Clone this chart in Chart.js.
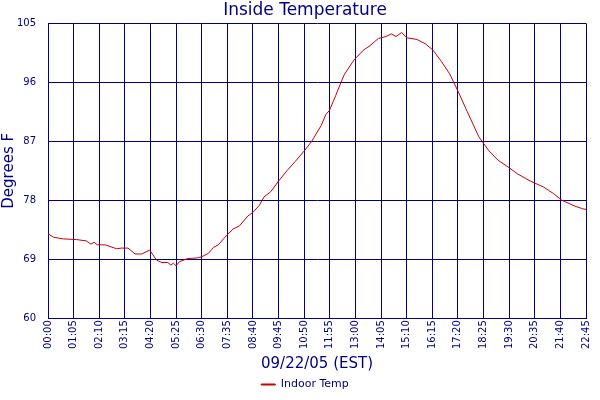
<!DOCTYPE html>
<html><head><meta charset="utf-8">
<script src="https://cdn.jsdelivr.net/npm/chart.js@4"></script>
<style>html,body{margin:0;padding:0;background:#fff}#w{width:600px;height:400px}</style>
</head><body><div id="w"><canvas id="c"></canvas></div>
<script>
const minutes = [0,14,39,72,97,109,117,125,145,174,186,203,221,238,258,275,288,304,312,318,325,333,354,379,391,407,420,432,449,469,486,507,519,536,548,565,586,606,627,651,668,693,705,714,730,751,776,800,817,838,858,871,883,897,911,936,957,977,998,1019,1039,1064,1093,1118,1142,1167,1192,1225,1258,1283,1304,1337,1357,1365];
const indoorTemp = [72.9,72.35,72.1,72.0,71.8,71.3,71.6,71.2,71.2,70.6,70.7,70.7,69.8,69.8,70.4,68.9,68.5,68.5,68.1,68.4,68.0,68.6,69.1,69.2,69.4,69.9,70.8,71.2,72.35,73.6,74.1,75.6,76.1,77.2,78.5,79.3,81.0,82.5,83.9,85.6,86.9,89.4,91.1,91.7,94.0,97.1,99.4,100.9,101.6,102.7,103.0,103.4,103.0,103.6,102.8,102.55,101.9,100.9,99.2,97.3,94.8,91.5,87.7,85.6,84.1,83.1,82.0,80.9,80.0,79.0,78.0,77.1,76.7,76.6];
const yTicks = [60,69,78,87,96,105];
const navy = '#000080';
const fmt = m => String(Math.floor(m/60)).padStart(2,'0')+':'+String(m%60).padStart(2,'0');
new Chart(document.getElementById('c'), {
  type: 'line',
  data: { datasets: [{ label: 'Indoor Temp', data: minutes.map((m,i)=>({x:m,y:indoorTemp[i]})),
    borderColor: '#CC0000', backgroundColor: '#CC0000', borderWidth: 1, pointRadius: 0, tension: 0 }] },
  options: {
    animation: false, responsive: true, maintainAspectRatio: false,
    layout: { padding: { left: 0, right: -10, top: 0, bottom: 0 } },
    plugins: {
      title: { display: true, text: 'Inside Temperature', color: navy, font: { family: 'DejaVu Sans', size: 17, weight: 'normal' }, padding: { top: 0, bottom: 3 } },
      legend: { position: 'bottom', labels: { color: navy, boxWidth: 14, boxHeight: 1, font: { family: 'DejaVu Sans', size: 11 }, padding: 2 } },
      tooltip: { enabled: false }
    },
    scales: {
      x: { type: 'linear', min: 0, max: 1365,
        afterBuildTicks: s => { s.ticks = []; for (let m=0;m<=1365;m+=65) s.ticks.push({value:m}); },
        ticks: { color: navy, font: { family: 'DejaVu Sans', size: 10 }, maxRotation: 90, minRotation: 90, callback: v => fmt(v), autoSkip: false, padding: 2 },
        grid: { color: navy, lineWidth: 1, drawTicks: false }, border: { color: navy },
        title: { display: true, text: '09/22/05 (EST)', color: navy, font: { family: 'DejaVu Sans', size: 15 }, padding: { top: 4, bottom: 4 } } },
      y: { min: 60, max: 105,
        afterBuildTicks: s => { s.ticks = yTicks.map(v=>({value:v})); },
        afterFit: s => { s.width = 48; },
        ticks: { color: navy, font: { family: 'DejaVu Sans', size: 10 }, padding: 12 },
        grid: { color: navy, lineWidth: 1, drawTicks: false }, border: { color: navy },
        title: { display: true, text: 'Degrees F', color: navy, font: { family: 'DejaVu Sans', size: 15 }, padding: 0 } }
    }
  }
});
</script></body></html>
